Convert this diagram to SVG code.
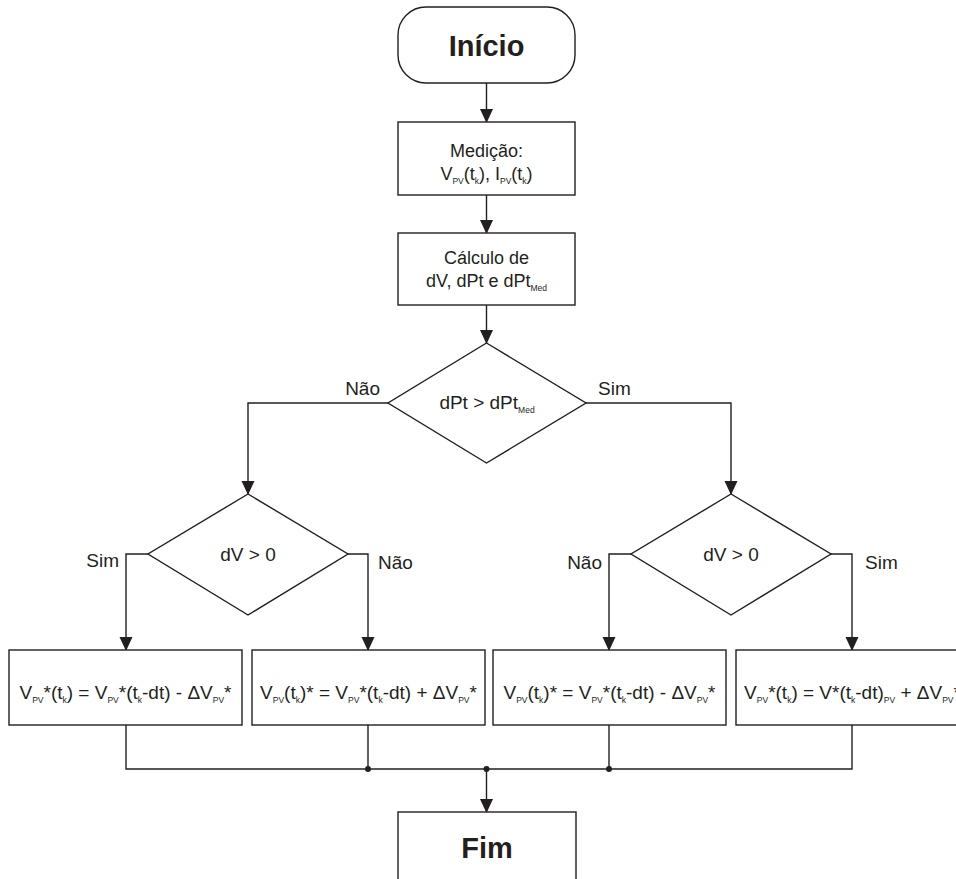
<svg xmlns="http://www.w3.org/2000/svg" width="956" height="879" viewBox="0 0 956 879">
<style>
  .shape { fill: #ffffff; stroke: #231f20; stroke-width: 1.4; }
  .line { fill: none; stroke: #231f20; stroke-width: 1.4; }
  .t { font-family: "Liberation Sans", Arial, sans-serif; font-size: 19px; fill: #231f20; }
  .tm { font-family: "Liberation Sans", Arial, sans-serif; font-size: 18px; fill: #231f20; text-anchor: middle; }
  .c { text-anchor: middle; }
  .e { text-anchor: end; }
  .title { font-family: "Liberation Sans", Arial, sans-serif; font-size: 29px; font-weight: bold; fill: #231f20; text-anchor: middle; }
  .s { font-size: 8.5px; }
  .dot { fill: #231f20; }
</style>
<defs>
  <marker id="arrow" markerUnits="userSpaceOnUse" markerWidth="14" markerHeight="15" refX="14" refY="7" orient="auto" viewBox="0 0 15 14">
    <path d="M0,0 L15,7 L0,14 z" fill="#231f20"/>
  </marker>
</defs>

<g id="connectors">
  <line class="line" x1="486.5" y1="83" x2="486.5" y2="122" marker-end="url(#arrow)"/>
  <line class="line" x1="486.5" y1="195" x2="486.5" y2="233" marker-end="url(#arrow)"/>
  <line class="line" x1="486.5" y1="305" x2="486.5" y2="343" marker-end="url(#arrow)"/>
  <polyline class="line" points="388,403 248,403 248,494" marker-end="url(#arrow)"/>
  <polyline class="line" points="586,403 731,403 731,494" marker-end="url(#arrow)"/>
  <polyline class="line" points="148,554 126,554 126,650" marker-end="url(#arrow)"/>
  <polyline class="line" points="348,554 368,554 368,650" marker-end="url(#arrow)"/>
  <polyline class="line" points="631,554 609,554 609,650" marker-end="url(#arrow)"/>
  <polyline class="line" points="831,554 852,554 852,650" marker-end="url(#arrow)"/>
  <polyline class="line" points="126,725 126,769 852,769 852,725"/>
  <line class="line" x1="368" y1="725" x2="368" y2="769"/>
  <line class="line" x1="609" y1="725" x2="609" y2="769"/>
  <line class="line" x1="486.5" y1="769" x2="486.5" y2="812" marker-end="url(#arrow)"/>
  <circle class="dot" cx="368" cy="769" r="3"/>
  <circle class="dot" cx="486.5" cy="769" r="3"/>
  <circle class="dot" cx="609" cy="769" r="3"/>
  <text class="t e" x="380" y="395">Não</text>
  <text class="t" x="598" y="395">Sim</text>
  <text class="t e" x="119" y="567">Sim</text>
  <text class="t" x="378" y="569">Não</text>
  <text class="t e" x="602" y="569">Não</text>
  <text class="t" x="865" y="569">Sim</text>
</g>

<g id="inicio">
  <rect class="shape" x="398" y="7" width="177" height="76" rx="28" ry="28"/>
  <text class="title" x="486.5" y="56">Início</text>
</g>

<g id="medicao">
  <rect class="shape" x="398" y="122" width="177" height="73"/>
  <text class="tm" x="486.5" y="157">Medição:</text>
  <text class="tm" x="486.5" y="180">V<tspan class="s" dy="4">PV</tspan><tspan dy="-4">(t</tspan><tspan class="s" dy="4">k</tspan><tspan dy="-4">), I</tspan><tspan class="s" dy="4">PV</tspan><tspan dy="-4">(t</tspan><tspan class="s" dy="4">k</tspan><tspan dy="-4">)</tspan></text>
</g>

<g id="calculo">
  <rect class="shape" x="398" y="233" width="177" height="72"/>
  <text class="tm" x="486.5" y="264">Cálculo de</text>
  <text class="tm" x="486.5" y="287">dV, dPt e dPt<tspan class="s" dy="4">Med</tspan></text>
</g>

<g id="decisao-dpt">
  <polygon class="shape" points="486.5,343 586,403 486.5,463 388,403"/>
  <text class="t c" x="487" y="409">dPt &gt; dPt<tspan class="s" dy="4">Med</tspan></text>
</g>

<g id="decisao-dv-esq">
  <polygon class="shape" points="248,494 348,554 248,615 148,554"/>
  <text class="t c" x="248" y="561">dV &gt; 0</text>
</g>

<g id="decisao-dv-dir">
  <polygon class="shape" points="731,494 831,554 731,615 631,554"/>
  <text class="t c" x="731" y="561">dV &gt; 0</text>
</g>

<g id="acao-1">
  <rect class="shape" x="9" y="650" width="233" height="75"/>
  <text class="t c" x="125.5" y="699">V<tspan class="s" dy="4">PV</tspan><tspan dy="-4">*(t</tspan><tspan class="s" dy="4">k</tspan><tspan dy="-4">) = V</tspan><tspan class="s" dy="4">PV</tspan><tspan dy="-4">*(t</tspan><tspan class="s" dy="4">k</tspan><tspan dy="-4">-dt) - ΔV</tspan><tspan class="s" dy="4">PV</tspan><tspan dy="-4">*</tspan></text>
</g>

<g id="acao-2">
  <rect class="shape" x="252" y="650" width="233" height="75"/>
  <text class="t c" x="368.5" y="699">V<tspan class="s" dy="4">PV</tspan><tspan dy="-4">(t</tspan><tspan class="s" dy="4">k</tspan><tspan dy="-4">)* = V</tspan><tspan class="s" dy="4">PV</tspan><tspan dy="-4">*(t</tspan><tspan class="s" dy="4">k</tspan><tspan dy="-4">-dt) + ΔV</tspan><tspan class="s" dy="4">PV</tspan><tspan dy="-4">*</tspan></text>
</g>

<g id="acao-3">
  <rect class="shape" x="493" y="650" width="233" height="75"/>
  <text class="t c" x="609.5" y="699">V<tspan class="s" dy="4">PV</tspan><tspan dy="-4">(t</tspan><tspan class="s" dy="4">k</tspan><tspan dy="-4">)* = V</tspan><tspan class="s" dy="4">PV</tspan><tspan dy="-4">*(t</tspan><tspan class="s" dy="4">k</tspan><tspan dy="-4">-dt) - ΔV</tspan><tspan class="s" dy="4">PV</tspan><tspan dy="-4">*</tspan></text>
</g>

<g id="acao-4">
  <rect class="shape" x="736" y="650" width="233" height="75"/>
  <text class="t c" x="852.5" y="699">V<tspan class="s" dy="4">PV</tspan><tspan dy="-4">*(t</tspan><tspan class="s" dy="4">k</tspan><tspan dy="-4">) = V*(t</tspan><tspan class="s" dy="4">k</tspan><tspan dy="-4">-dt)</tspan><tspan class="s" dy="4">PV</tspan><tspan dy="-4"> + ΔV</tspan><tspan class="s" dy="4">PV</tspan><tspan dy="-4">*</tspan></text>
</g>

<g id="fim">
  <rect class="shape" x="398" y="812" width="178" height="80"/>
  <text class="title" x="487" y="858">Fim</text>
</g>
</svg>
